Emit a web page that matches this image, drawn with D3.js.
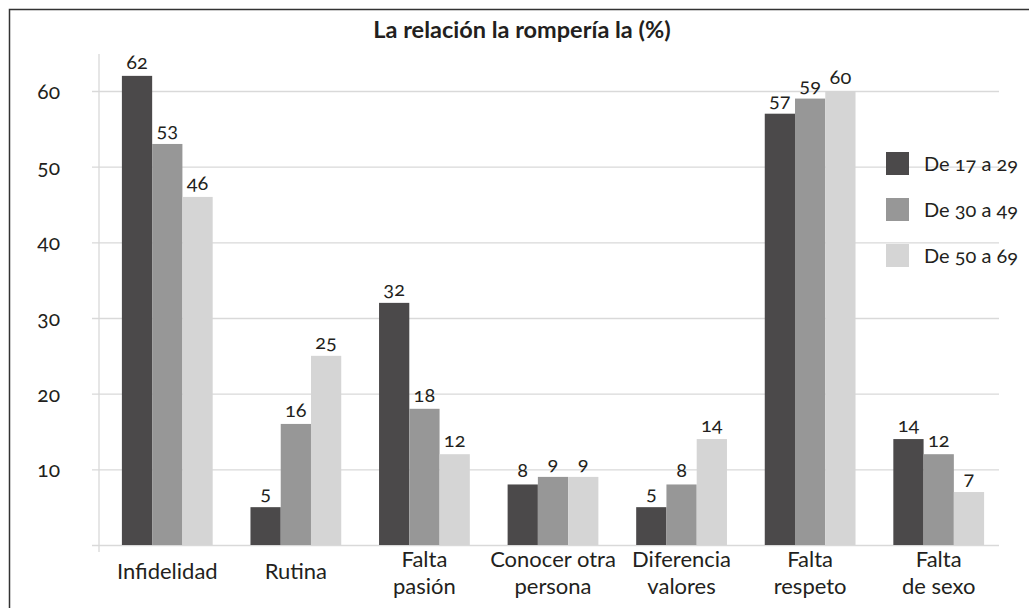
<!DOCTYPE html>
<html>
<head>
<meta charset="utf-8">
<script src="https://cdn.jsdelivr.net/npm/d3@7"></script>
<style>
	body{margin:0;background:#fff}
	svg{display:block}
	text{font-family:Lato,"Open Sans",sans-serif;fill:#231f20;font-variant-numeric:oldstyle-nums}
</style>
</head>
<body>
<script>

var WIDTH=1029,
	HEIGHT=608,
	plot={left:99,right:999,top:91,bottom:545}

var categories=["Infidelidad","Rutina","Falta\npasión","Conocer otra\npersona","Diferencia\nvalores","Falta\nrespeto","Falta\nde sexo"]
var seriesNames=["De 17 a 29","De 30 a 49","De 50 a 69"]
var age17to29=[62,5,32,8,5,57,14]
var age30to49=[53,16,18,9,8,59,12]
var age50to69=[46,25,12,9,14,60,7]
var yTicks=[10,20,30,40,50,60]
var colors=["#4b494a","#979797","#d5d5d5"]

var seriesValues=[age17to29,age30to49,age50to69]

var svg=d3.select('body').append('svg')
	.attr('width',WIDTH)
	.attr('height',HEIGHT)

// frame (only top and left edges are visible in the picture)
svg.append('path')
	.attr('d','M9.5,'+HEIGHT+' L9.5,9.5 L'+WIDTH+',9.5')
	.attr('fill','none')
	.attr('stroke','#333')
	.attr('stroke-width',1.5)

svg.append('text')
	.text('La relación la rompería la (%)')
	.attr('x',522)
	.attr('y',38)
	.attr('text-anchor','middle')
	.style('font-size','23.5px')
	.style('font-weight','bold')

var yScale=d3.scaleLinear()
	.domain([0,60])
	.range([plot.bottom,plot.top])

// bars are shifted slightly right of the axis grid, as in the source
var xScale=d3.scaleBand()
	.domain(d3.range(categories.length))
	.range([plot.left+4,plot.right+4])
	.paddingInner(0.294)
	.paddingOuter(0.147)

var xInner=d3.scaleBand()
	.domain(d3.range(seriesNames.length))
	.range([0,xScale.bandwidth()])

// grid
var yAxis=d3.axisLeft(yScale)
	.tickValues([0].concat(yTicks))
	.tickFormat(function(d){return d===0?'':d})

var yGuide=svg.append('g')
	.attr('transform','translate('+(plot.left-7)+',0)')
	.call(yAxis)
yGuide.select('.domain').remove()
yGuide.selectAll('.tick line')
	.attr('x1',0)
	.attr('x2',plot.right-plot.left+7)
	.attr('stroke','#d9d9d9')
	.attr('stroke-width',1.3)
yGuide.selectAll('.tick text')
	.attr('x',-32)
	.attr('text-anchor','end')
	.attr('dy','0.35em')
	.style('font-size','21px')

svg.append('line')
	.attr('x1',plot.left).attr('x2',plot.left)
	.attr('y1',54).attr('y2',plot.bottom+7)
	.attr('stroke','#d9d9d9')
	.attr('stroke-width',1.3)

// bars
var groups=svg.selectAll('.cat')
	.data(categories)
	.enter()
	.append('g')
	.classed('cat',true)
	.attr('transform',function(d,i){return 'translate('+xScale(i)+',0)'})

groups.each(function(c,ci){
	var g=d3.select(this)
	seriesValues.forEach(function(vals,si){
		var v=vals[ci]
		g.append('rect')
			.attr('x',xInner(si))
			.attr('y',yScale(v))
			.attr('width',xInner.bandwidth())
			.attr('height',yScale(0)-yScale(v))
			.attr('fill',colors[si])
		g.append('text')
			.text(v)
			.attr('x',xInner(si)+xInner.bandwidth()/2)
			.attr('y',yScale(v)-7)
			.attr('text-anchor','middle')
			.style('font-size','20px')
	})
	var lines=c.split('\n')
	var t=g.append('text')
		.attr('text-anchor','middle')
		.style('font-size','22px')
	lines.forEach(function(l,li){
		t.append('tspan')
			.text(l)
			.attr('x',xScale.bandwidth()/2)
			.attr('y',lines.length==1?579:567+li*27)
	})
})

// legend
var legend=svg.selectAll('.leg')
	.data(seriesNames)
	.enter()
	.append('g')
	.classed('leg',true)
	.attr('transform',function(d,i){return 'translate(886,'+(152+i*46)+')'})
legend.append('rect')
	.attr('width',23)
	.attr('height',23)
	.attr('fill',function(d,i){return colors[i]})
legend.append('text')
	.text(function(d){return d})
	.attr('x',38)
	.attr('y',19)
	.style('font-size','20px')

</script>
</body>
</html>
